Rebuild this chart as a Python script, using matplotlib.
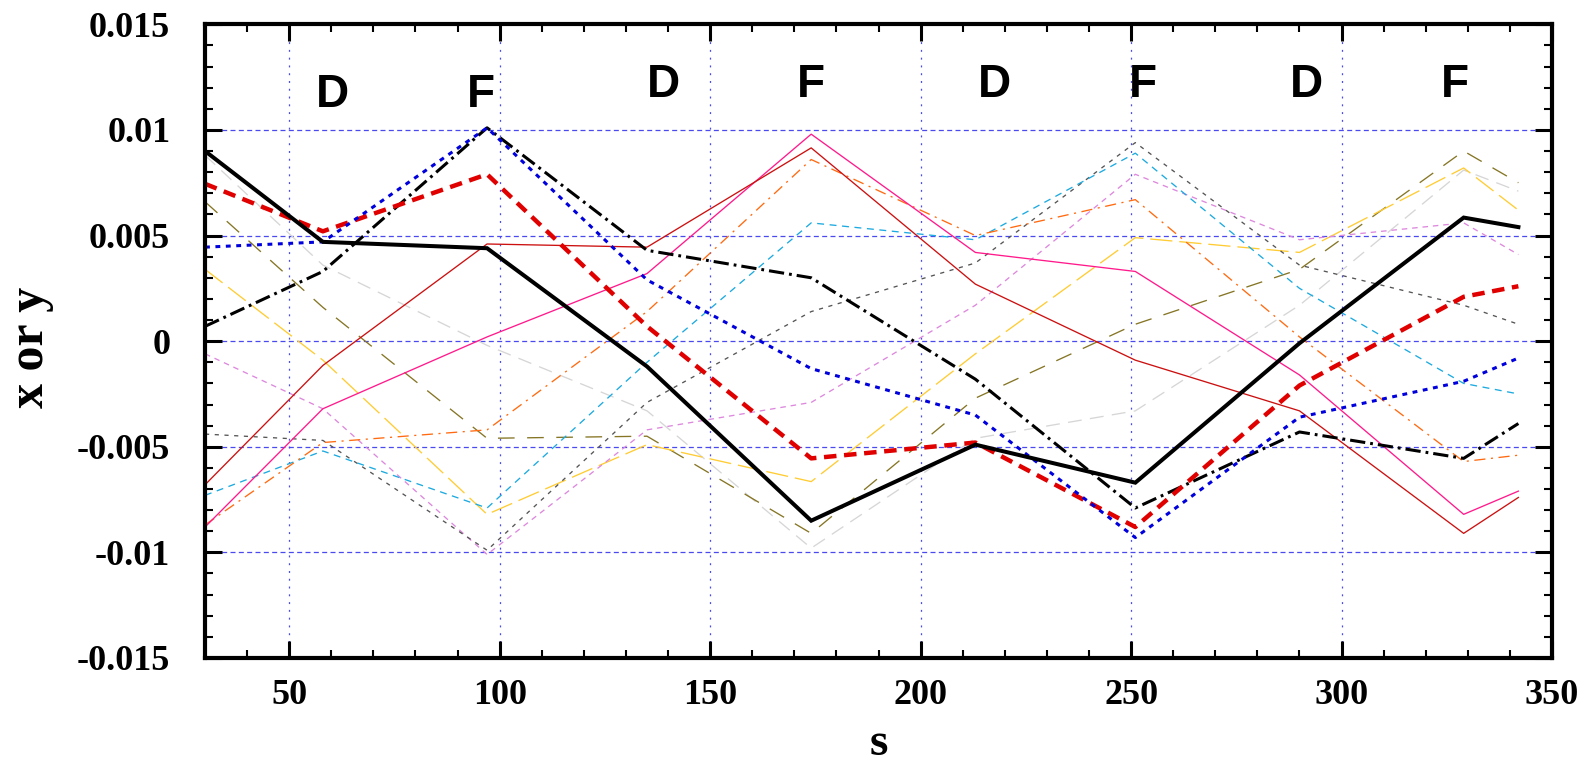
import matplotlib
matplotlib.use("Agg")
import matplotlib.pyplot as plt
from matplotlib.ticker import MultipleLocator, FixedLocator

plt.rcParams['lines.scale_dashes'] = False

# element positions along s (kinks of the trajectories)
s = [30, 58, 97, 135, 174, 213, 251, 290, 329, 342]

# trajectories, values in units of 1e-3
thick_black = [9.0, 4.7, 4.4, -1.2, -8.5, -4.9, -6.7, -0.1, 5.85, 5.4]
thick_red = [7.45, 5.2, 7.9, 0.7, -5.55, -4.8, -8.8, -2.1, 2.1, 2.6]
blue_dot = [4.45, 4.7, 10.1, 2.9, -1.3, -3.5, -9.3, -3.6, -1.9, -0.8]
black_dashdot = [0.7, 3.3, 10.1, 4.3, 3.0, -1.8, -7.9, -4.3, -5.55, -3.9]
red_thin = [-6.8, -1.15, 4.6, 4.45, 9.15, 2.7, -0.9, -3.3, -9.1, -7.4]
pink = [-8.8, -3.2, 0.2, 3.2, 9.8, 4.2, 3.3, -1.6, -8.2, -7.1]
orange = [-8.7, -4.8, -4.2, 1.4, 8.6, 5.0, 6.7, 0.2, -5.7, -5.4]
cyan = [-7.3, -5.2, -7.9, -1.0, 5.6, 4.8, 8.9, 2.5, -2.0, -2.5]
dark_grey = [-4.4, -4.7, -9.9, -2.9, 1.4, 3.7, 9.4, 3.6, 1.7, 0.8]
violet = [-0.6, -3.2, -10.1, -4.2, -2.9, 1.7, 7.9, 4.8, 5.6, 4.1]
yellow = [3.4, -0.9, -8.2, -4.9, -6.65, -0.6, 4.9, 4.2, 8.2, 6.2]
olive = [6.6, 1.6, -4.6, -4.5, -9.1, -2.7, 0.8, 3.4, 9.0, 7.5]
light_grey = [8.8, 3.6, -0.2, -3.3, -9.8, -4.6, -3.3, 1.7, 8.1, 7.1]

# quadrupole labels
quad_names = ['D', 'F', 'D', 'F', 'D', 'F', 'D', 'F']
quad_s = [60.2, 95.6, 138.9, 174.0, 217.5, 252.8, 291.7, 327.0]
quad_y = [11.09, 11.09, 11.56, 11.56, 11.56, 11.56, 11.56, 11.56]

x_ticks = [50, 100, 150, 200, 250, 300, 350]
y_ticks = [-0.015, -0.01, -0.005, 0, 0.005, 0.01, 0.015]
y_tick_labels = ['-0.015', '-0.01', '-0.005', '0', '0.005', '0.01', '0.015']

def sc(v):
    return [a * 1e-3 for a in v]

fig = plt.figure(figsize=(15.93, 7.65), dpi=100)
ax = fig.add_axes([0.1287, 0.1399, 0.9743 - 0.1287, 0.9682 - 0.1399])

# thin lines
lw = 0.95
ax.plot(s, sc(light_grey), color='#d6d6d6', lw=lw, dashes=(10, 6))
ax.plot(s, sc(olive), color='#857524', lw=lw, dashes=(12, 9))
ax.plot(s, sc(yellow), color='#ffcc33', lw=lw, dashes=(16, 5))
ax.plot(s, sc(violet), color='#dd88dd', lw=lw, dashes=(4, 3.5))
ax.plot(s, sc(dark_grey), color='#555555', lw=lw, dashes=(3, 4))
ax.plot(s, sc(cyan), color='#1caae0', lw=lw, dashes=(5, 4))
ax.plot(s, sc(orange), color='#ff6a10', lw=lw, dashes=(8, 4, 1.5, 4))
ax.plot(s, sc(pink), color='#ff1a8c', lw=lw)
ax.plot(s, sc(red_thin), color='#cc1010', lw=lw)

# thick lines
ax.plot(s, sc(black_dashdot), color='black', lw=2.2, dashes=(11, 3.6, 2, 3.6))
ax.plot(s, sc(thick_red), color='#e00000', lw=3.2, dashes=(9, 5.5))
ax.plot(s, sc(blue_dot), color='#0000dd', lw=2.2, dashes=(3.5, 4))
ax.plot(s, sc(thick_black), color='black', lw=2.9, solid_joinstyle='miter')

for name, xs, ys in zip(quad_names, quad_s, quad_y):
    ax.text(xs, ys * 1e-3, name, ha='center', va='baseline', fontsize=33,
            fontweight='bold', family='Liberation Sans')

ax.set_xlim(30, 350)
ax.set_ylim(-0.015, 0.015)

ax.xaxis.set_major_locator(FixedLocator(x_ticks))
ax.xaxis.set_minor_locator(MultipleLocator(10))
ax.set_yticks(y_ticks)
ax.set_yticklabels(y_tick_labels)
ax.yaxis.set_minor_locator(MultipleLocator(0.001))

# grid
ax.yaxis.grid(True, color='#4a4aee', lw=0.9, dashes=(3.6, 2.4))
ax.xaxis.grid(True, color='#4a4aee', lw=0.9, dashes=(1.4, 4.2))

for sp in ax.spines.values():
    sp.set_linewidth(3.0)

ax.tick_params(which='major', direction='in', top=True, right=True,
               length=12, width=2.2)
ax.tick_params(which='minor', direction='in', top=True, right=True,
               length=5.8, width=1.5)
ax.tick_params(axis='y', which='major', pad=25)
ax.tick_params(axis='x', which='major', pad=15)

for lab in ax.get_xticklabels() + ax.get_yticklabels():
    lab.set_family('Liberation Serif')
    lab.set_fontweight('bold')
    lab.set_fontsize(26)

ax.set_xlabel('s', family='Liberation Serif', fontweight='bold', fontsize=34)
ax.xaxis.label.set_va('baseline')
ax.xaxis.set_label_coords(0.5, -0.153)
ax.set_ylabel('x or y', family='Liberation Serif', fontweight='bold', fontsize=36)
ax.yaxis.set_label_coords(-0.112, 0.49)

fig.savefig('out.png', dpi=100)
